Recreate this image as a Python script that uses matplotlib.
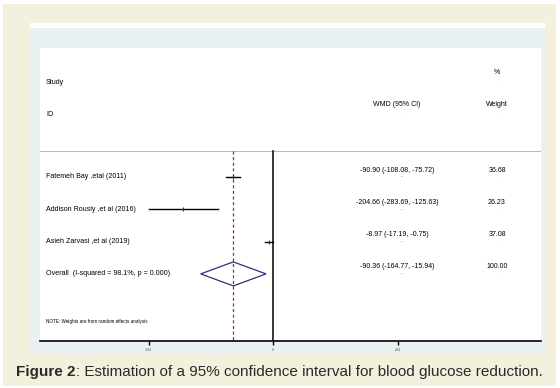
import numpy as np
import matplotlib.pyplot as plt
from matplotlib.patches import Rectangle, Polygon

plt.rcParams['font.family'] = ['Liberation Sans', 'DejaVu Sans']

# dati del forest plot
studi = ['Fatemeh Bay ,etal (2011)', 'Addison Rously ,et al (2016)', 'Asieh Zarvasi ,et al (2019)']
wmd = [-90.90, -204.66, -8.97]
ci_low = [-108.08, -283.69, -17.19]
ci_high = [-75.72, -125.63, -0.75]
pesi = [36.68, 26.23, 37.08]
overall = -90.36
overall_low = -164.77
overall_high = -15.94
overall_label = 'Overall  (I-squared = 98.1%, p = 0.000)'
xticks = [-283.69, 0, 283.69]
xtick_labels = ['-284', '0', '284']

W, H = 560, 388
fig = plt.figure(figsize=(W / 100, H / 100), dpi=100)
fig.patch.set_facecolor('white')

def rect(x, y, w, h, color):
    # coordinate in pixel dall'alto a sinistra
    fig.patches.append(Rectangle((x / W, 1 - (y + h) / H), w / W, h / H,
                                 transform=fig.transFigure, facecolor=color,
                                 edgecolor='none', zorder=-10))

rect(3, 4, 553, 382, '#F3F0DD')   # sfondo crema
rect(30, 23, 515, 5, 'white')
rect(30, 28, 515, 325, '#E9F1F3')  # pannello azzurro
rect(40, 48, 501, 293, 'white')

# assi del grafico (area bianca interna)
ax = fig.add_axes([40 / W, 1 - 341 / H, 501 / W, 293 / H])
ax.set_facecolor('white')
scala = 124.5 / 283.69  # pixel per unita'
x0 = 273
ax.set_xlim((40 - x0) / scala, (541 - x0) / scala)
passo = 32.3
def riga(ypx):
    return 1 + (ypx - 177) / passo
ax.set_ylim(riga(341), riga(48))

for s in ['top', 'left', 'right']:
    ax.spines[s].set_visible(False)
ax.spines['bottom'].set_linewidth(1.2)
ax.set_yticks([])
ax.set_xticks(xticks)
ax.set_xticklabels(xtick_labels, fontsize=2.5, color='#555555')
ax.tick_params(axis='x', length=3, width=1, pad=2)

def px(x):
    return (x - x0) / scala

y_sep = riga(151)
y_bot = riga(341)
ax.axhline(y_sep, color='#BBBBBB', lw=0.8)
ax.plot([0, 0], [y_sep, y_bot], color='black', lw=1.1)
ax.plot([overall, overall], [y_sep, y_bot], color='#A8283A', lw=0.9, dashes=(2.5, 2))

righe = np.arange(1, len(studi) + 1)
fs = 5.1
fv = 5.0
for i, r in enumerate(righe):
    ax.plot([ci_low[i], ci_high[i]], [r, r], color='black', lw=1)
    ax.plot(wmd[i], r, marker='|', color='#333333', ms=2.5, mew=0.8)
    ax.text(px(46), r, studi[i], fontsize=fs, va='center', ha='left')
    ax.text(px(397), r - 7 / passo, '%.2f (%.2f, %.2f)' % (wmd[i], ci_low[i], ci_high[i]),
            fontsize=fv, va='center', ha='center')
    ax.text(px(497), r - 7 / passo, '%.2f' % pesi[i], fontsize=fv, va='center', ha='center')
    ax.text(px(402), r, '-', fontsize=3.5, va='center', ha='center', color='#444444')
    ax.text(px(502), r, '-', fontsize=3, va='center', ha='center', color='#888888')

r_ov = len(studi) + 1
h = 12 / passo
diam = Polygon([(overall_low, r_ov), (overall, r_ov - h), (overall_high, r_ov), (overall, r_ov + h)],
               closed=True, facecolor='none', edgecolor='#27307F', lw=0.9)
ax.add_patch(diam)
ax.text(px(46), r_ov, overall_label, fontsize=fs, va='center', ha='left')
ax.text(px(397), r_ov - 7 / passo, '%.2f (%.2f, %.2f)' % (overall, overall_low, overall_high),
        fontsize=fv, va='center', ha='center')
ax.text(px(497), r_ov - 7 / passo, '100.00', fontsize=fv, va='center', ha='center')
ax.text(px(402), r_ov, '-', fontsize=3.5, va='center', ha='center', color='#444444')
ax.text(px(502), r_ov, '-', fontsize=3, va='center', ha='center', color='#888888')

# intestazioni
ax.text(px(46), riga(82), 'Study', fontsize=fs, va='center', ha='left')
ax.text(px(46), riga(114), 'ID', fontsize=fs, va='center', ha='left')
ax.text(px(397), riga(105), 'WMD (95% CI)', fontsize=fv, va='center', ha='center')
ax.text(px(497), riga(105), 'Weight', fontsize=fv, va='center', ha='center')
ax.text(px(497), riga(73), '%', fontsize=fv, va='center', ha='center')
ax.text(px(402), riga(114), '-', fontsize=3, va='center', ha='center', color='#888888')
ax.text(px(502), riga(114), '-', fontsize=3, va='center', ha='center', color='#888888')
ax.text(px(502), riga(82), '-', fontsize=3, va='center', ha='center', color='#888888')
ax.text(px(46), riga(322), 'NOTE: Weights are from random effects analysis', fontsize=3.3,
        va='center', ha='left')

# didascalia
t1 = fig.text(16 / W, 1 - 372 / H, 'Figure 2', fontsize=11, fontweight='bold',
              color='#2A2A2A', va='center', ha='left')
fig.canvas.draw()
bb = t1.get_window_extent()
fig.text(bb.x1 / W, 1 - 372 / H, ': Estimation of a 95% confidence interval for blood glucose reduction.',
         fontsize=11, color='#2A2A2A', va='center', ha='left')

fig.savefig('out.png', dpi=100)
